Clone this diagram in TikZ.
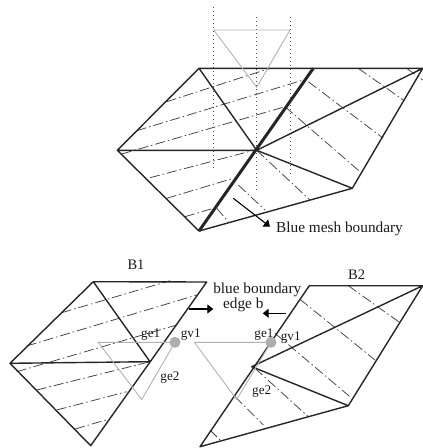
\documentclass[tikz,border=0pt]{standalone}
\usepackage{fontspec}
\setmainfont{Liberation Serif}
\usetikzlibrary{arrows.meta}
\tikzset{
 edgeline/.style={line width=1.4pt,color=black!85,line cap=round,line join=round},
 boldedge/.style={line width=3pt,color=black!85,line cap=butt},
 dashdot/.style={line width=0.75pt,color=black!75,dash pattern=on 10pt off 3pt on 1.5pt off 3pt},
 guide/.style={line width=0.9pt,color=black!70,dash pattern=on 1pt off 3pt},
 ghost/.style={line width=0.9pt,color=black!30,line join=round},
 pointer/.style={line width=1.1pt,color=black,-{Triangle[length=6pt,width=9pt]}},
 biglabel/.style={font=\fontsize{15.3}{16}\selectfont,inner sep=0pt,color=black!90},
 smalllabel/.style={font=\fontsize{13.2}{14}\selectfont,inner sep=0pt,color=black!90},
 vertexdot/.style={circle,fill=black!32,inner sep=0pt,minimum size=11pt},
}
\begin{document}
\begin{tikzpicture}[x=1pt,y=-1pt]
\useasboundingbox (0,0) rectangle (423,448);
% ---- top mesh
\coordinate (ta) at (199,68.3);
\coordinate (tb) at (313.3,68.3);
\coordinate (tc) at (422.7,68.3);
\coordinate (td) at (117.3,150.3);
\coordinate (te) at (256.7,150.3);
\coordinate (tf) at (199,231);
\coordinate (tg) at (352.3,188.3);
\coordinate (gg1) at (213.7,30);
\coordinate (gg2) at (290,30);
\coordinate (gg3) at (256.7,87.3);
\foreach \a/\b/\c/\d in {213.7/7/213.7/168,256.7/17/256.7/192,290/17/290/177}
  \draw[guide] (\a,\b) -- (\c,\d);
\foreach \a/\b/\c/\d in {166.7/101.7/270/68.3,136.7/130.7/303.3/80,121.7/154/285/106.7,150/177.7/255/150,166.7/198.3/233.3/178.3,185/216.7/213.3/208.3,
 358.3/68.3/403.3/100,406.7/68.3/422.7/80,308.3/81.7/383.3/138.3,285/106.7/360/171.7,256.7/150.3/310/200,238.3/185/265/210,216.7/208.3/228.3/221.7}
  \draw[dashdot] (\a,\b) -- (\c,\d);
\draw[edgeline] (ta) -- (tc) (ta) -- (td) -- (tf) -- (tg) -- (tc) (ta) -- (te) (td) -- (te) (te) -- (tc) (te) -- (tg);
\draw[boldedge] (tb) -- (tf);
\draw[ghost] (gg1) -- (gg2) -- (gg3) -- cycle;
\coordinate (pa) at (233.3,198.3);
\coordinate (pb) at (270,226.7);
\node[biglabel,anchor=west] (bmb) at (276,228.5) {Blue mesh boundary};
\draw[pointer] (pa) -- (pb);
% ---- bottom-left mesh
\coordinate (la) at (93.3,281.7);
\coordinate (lb) at (206.7,282);
\coordinate (ld) at (10,363.3);
\coordinate (le) at (150,361.7);
\coordinate (lf) at (90.7,445.7);
\foreach \a/\b/\c/\d in {61.7/312.7/170/280.7,26.7/346/196.7/295,16.7/371.7/176.7/325,36.7/390/150/361.7,56.7/410/126.7/391.7,75/429/108.3/419.3,
 348.3/285.7/400/322.7,300/299.3/375/360,275/333.3/350/396.7,255/368.3/308.3/416.7,235/396.7/263.3/425,210/430/220/440}
  \draw[dashdot] (\a,\b) -- (\c,\d);
\draw[edgeline] (la) -- (lb) -- (lf) -- (ld) -- (la) -- (le) -- (ld);
% ---- bottom-right mesh
\coordinate (rp) at (309.3,285.7);
\coordinate (rq) at (422.7,285.7);
\coordinate (rr) at (251.7,366.7);
\coordinate (rs) at (200,446.7);
\coordinate (rt) at (348.3,405.7);
\draw[edgeline] (rp) -- (rq) -- (rt) -- (rs) -- (rp) (rq) -- (rr) -- (rt);
% ---- ghost triangles
\coordinate (g1a) at (98.3,342.3);
\coordinate (g1b) at (141.7,399.5);
\coordinate (g2a) at (194.3,342.3);
\coordinate (g2b) at (236.7,399.5);
\node[vertexdot] (gv1l) at (175,342.3) {};
\node[vertexdot] (gv1r) at (271,342.3) {};
\draw[ghost] (g1a) -- (gv1l.center) -- (g1b) -- cycle;
\draw[ghost] (g2a) -- (gv1r.center) -- (g2b) -- cycle;
% ---- labels
\node[biglabel,font=\fontsize{14.5}{16}\selectfont] (bone) at (136,265) {B1};
\node[biglabel,font=\fontsize{14.5}{16}\selectfont] (btwo) at (356.7,275) {B2};
\node[biglabel] (bbd) at (257.3,289.5) {blue boundary};
\node[biglabel] (edb) at (243.3,304.5) {edge b};
\node[smalllabel] (ge1l) at (150.7,335) {ge1};
\node[smalllabel] (gv1ll) at (190.7,334.5) {gv1};
\node[smalllabel] (ge2l) at (170,377.3) {ge2};
\node[smalllabel] (ge1r) at (264,335) {ge1};
\node[smalllabel] (gv1rl) at (290.7,338) {gv1};
\node[smalllabel] (ge2r) at (261.7,391.7) {ge2};
\coordinate (al) at (189,309);
\coordinate (alt) at (213.3,309);
\coordinate (ar) at (286,313.3);
\coordinate (art) at (262.7,313.3);
\draw[pointer] (al) -- (alt);
\draw[pointer] (ar) -- (art);
\end{tikzpicture}
\end{document}
